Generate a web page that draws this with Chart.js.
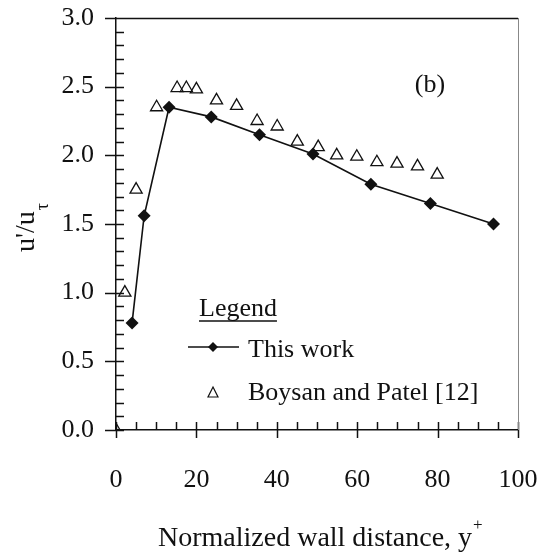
<!DOCTYPE html>
<html>
<head>
<meta charset="utf-8">
<script src="https://cdn.jsdelivr.net/npm/chart.js"></script>
<style>
  html, body { margin: 0; padding: 0; background: #fff; }
  #wrap { width: 542px; height: 556px; }
</style>
</head>
<body>
<div id="wrap"><canvas id="uprime" width="542" height="556"></canvas></div>
<script>
// u'/u_tau versus y+ : present computation and Boysan & Patel data
const thisWorkX = [4.0, 7.0, 13.2, 23.7, 35.7, 49.0, 63.4, 78.2, 93.9];
const thisWorkY = [0.78, 1.56, 2.35, 2.28, 2.15, 2.01, 1.79, 1.65, 1.50];

const boysanX = [0, 2.2, 5.0, 10.1, 15.2, 17.5, 20.0, 25.0, 30.0, 35.1, 40.1, 45.1, 50.3, 54.9, 59.9, 64.9, 69.9, 75.0, 79.9];
const boysanY = [0, 1.0, 1.75, 2.35, 2.49, 2.49, 2.48, 2.40, 2.36, 2.25, 2.21, 2.10, 2.06, 2.00, 1.99, 1.95, 1.94, 1.92, 1.86];

const xTickStep = 5;   // minor ticks, labels every 20
const yTickStep = 0.1; // minor ticks, labels every 0.5

const serif = '"Liberation Serif", "Times New Roman", serif';

const toPoints = (xs, ys) => xs.map((x, i) => ({ x: x, y: ys[i] }));

function isMajorY(v) {
  return Math.round(v * 10) % 5 === 0;
}

// tick marks pointing into the plot, plus the top/right frame
const frameTicks = {
  id: "frameTicks",
  beforeDatasetsDraw(chart) {
    const { ctx, chartArea: a, scales } = chart;
    ctx.save();
    ctx.strokeStyle = "#111";
    ctx.lineWidth = 1.5;
    ctx.beginPath();
    scales.y.ticks.forEach((t) => {
      const py = Math.round(scales.y.getPixelForValue(t.value)) + 0.5;
      ctx.moveTo(isMajorY(t.value) ? a.left - 11 : a.left, py);
      ctx.lineTo(a.left + 8, py);
    });
    scales.x.ticks.forEach((t) => {
      const px = Math.round(scales.x.getPixelForValue(t.value)) + 0.5;
      ctx.moveTo(px, t.value % 20 === 0 ? a.bottom + 8 : a.bottom);
      ctx.lineTo(px, a.bottom - 8);
    });
    // top edge
    ctx.moveTo(a.left - 11, a.top + 0.5);
    ctx.lineTo(a.right, a.top + 0.5);
    ctx.stroke();
    // right edge is a thin grey line
    ctx.strokeStyle = "#888";
    ctx.lineWidth = 1;
    ctx.beginPath();
    ctx.moveTo(a.right + 0.5, a.top);
    ctx.lineTo(a.right + 0.5, a.bottom);
    ctx.stroke();
    ctx.restore();
  },
  afterDraw(chart) {
    const ctx = chart.ctx;
    ctx.save();
    ctx.fillStyle = "#111";
    ctx.strokeStyle = "#111";
    ctx.textBaseline = "alphabetic";

    // panel tag
    ctx.font = "26px " + serif;
    ctx.textAlign = "center";
    ctx.fillText("(b)", 430, 92);

    // x axis title with superscript
    ctx.textAlign = "left";
    ctx.font = "28px " + serif;
    const xt = "Normalized wall distance, y";
    ctx.fillText(xt, 158, 546);
    const xw = ctx.measureText(xt).width;
    ctx.font = "17px " + serif;
    ctx.fillText("+", 158 + xw + 1, 530);

    // y axis title, rotated, with subscript tau
    ctx.save();
    ctx.translate(34, 252);
    ctx.rotate(-Math.PI / 2);
    ctx.font = "28px " + serif;
    ctx.fillText("u'/u", 0, 0);
    const yw = ctx.measureText("u'/u").width;
    ctx.font = "18px " + serif;
    ctx.fillText("\u03c4", yw + 1, 14);
    ctx.restore();

    // legend block
    ctx.font = "26px " + serif;
    ctx.fillText("Legend", 199, 316);
    const lw = ctx.measureText("Legend").width;
    ctx.lineWidth = 1.3;
    ctx.beginPath();
    ctx.moveTo(199, 321);
    ctx.lineTo(199 + lw, 321);
    ctx.stroke();

    ctx.lineWidth = 1.5;
    ctx.beginPath();
    ctx.moveTo(188, 347);
    ctx.lineTo(239, 347);
    ctx.stroke();
    ctx.beginPath();
    ctx.moveTo(213, 342);
    ctx.lineTo(218, 347);
    ctx.lineTo(213, 352);
    ctx.lineTo(208, 347);
    ctx.closePath();
    ctx.fill();
    ctx.fillText("This work", 248, 357);

    ctx.lineWidth = 1.2;
    ctx.beginPath();
    ctx.moveTo(213, 387);
    ctx.lineTo(218, 397);
    ctx.lineTo(208, 397);
    ctx.closePath();
    ctx.stroke();
    ctx.fillText("Boysan and Patel [12]", 248, 400);
    ctx.restore();
  },
};

const tickFont = { family: serif, size: 26 };

// keep the plot box fixed: no extra room for overhanging tick labels
function fixPadding(scale) {
  scale.paddingLeft = 0;
  scale.paddingRight = 0;
  scale.paddingTop = 0;
  scale.paddingBottom = 0;
}

new Chart(document.getElementById("uprime"), {
  type: "scatter",
  data: {
    datasets: [
      {
        label: "This work",
        data: toPoints(thisWorkX, thisWorkY),
        showLine: true,
        borderColor: "#111",
        borderWidth: 1.6,
        backgroundColor: "#111",
        pointStyle: "rectRot",
        pointRadius: 6.5,
        pointBorderWidth: 0,
        order: 1,
      },
      {
        label: "Boysan and Patel [12]",
        data: toPoints(boysanX, boysanY),
        showLine: false,
        borderColor: "#111",
        backgroundColor: "rgba(0,0,0,0)",
        pointStyle: "triangle",
        pointRadius: 7,
        pointBorderWidth: 1.3,
        order: 2,
      },
    ],
  },
  options: {
    responsive: false,
    devicePixelRatio: 1,
    animation: false,
    layout: { padding: { top: 18, right: 24, left: 0, bottom: 0 } },
    plugins: {
      legend: { display: false },
      tooltip: { enabled: false },
    },
    scales: {
      x: {
        type: "linear",
        min: 0,
        max: 100,
        grid: { display: false, drawTicks: false },
        border: { display: true, color: "#111", width: 1.5 },
        ticks: {
          stepSize: xTickStep,
          autoSkip: false,
          maxRotation: 0,
          padding: 35,
          color: "#111",
          font: tickFont,
          callback: (v) => (v % 20 === 0 ? String(v) : ""),
        },
        afterFit: (scale) => {
          scale.height = 126;
          fixPadding(scale);
        },
      },
      y: {
        type: "linear",
        min: 0,
        max: 3,
        grid: { display: false, drawTicks: false },
        border: { display: true, color: "#111", width: 1.5 },
        ticks: {
          stepSize: yTickStep,
          autoSkip: false,
          padding: 22,
          color: "#111",
          font: tickFont,
          callback: (v) => (isMajorY(v) ? v.toFixed(1) : ""),
        },
        afterFit: (scale) => {
          scale.width = 116;
          fixPadding(scale);
        },
      },
    },
  },
  plugins: [frameTicks],
});
</script>
</body>
</html>
